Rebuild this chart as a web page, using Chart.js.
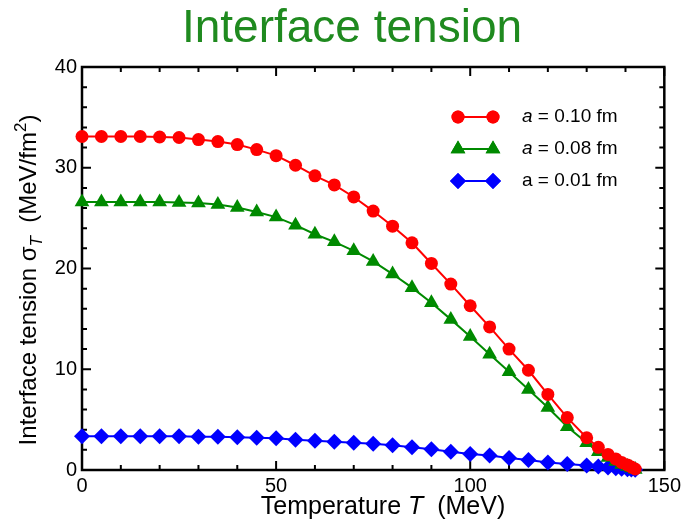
<!DOCTYPE html>
<html>
<head>
<meta charset="utf-8">
<script src="https://cdn.jsdelivr.net/npm/chart.js@4.4.1/dist/chart.umd.min.js"></script>
<style>
  body { margin: 0; background: #fff; }
  #wrap { width: 685px; height: 524px; }
</style>
</head>
<body>
<div id="wrap"><canvas id="tensionChart" width="685" height="524"></canvas></div>
<script>
// Temperature grid (MeV), shared by all three lattice spacings
const temperatures = [0, 5, 10, 15, 20, 25, 30, 35, 40, 45, 50, 55, 60, 65, 70, 75, 80, 85, 90, 95,
    100, 105, 110, 115, 120, 125, 130, 133, 135.5, 137.5, 139, 140.5, 141.5, 142.5];

// Interface tension sigma_T (MeV/fm^2)
const sigmaA010 = [33.1, 33.1, 33.1, 33.1, 33.05, 33.0, 32.8, 32.6, 32.3, 31.8, 31.2, 30.25, 29.2, 28.3,
    27.1, 25.7, 24.2, 22.55, 20.5, 18.45, 16.3, 14.2, 12.0, 9.9, 7.5, 5.2, 3.2, 2.25, 1.55, 1.1, 0.75, 0.5, 0.3, 0.1];
const sigmaA008 = [26.6, 26.6, 26.6, 26.6, 26.6, 26.55, 26.5, 26.35, 26.05, 25.6, 25.1, 24.3, 23.4, 22.65,
    21.75, 20.7, 19.45, 18.1, 16.6, 14.95, 13.25, 11.5, 9.75, 8.0, 6.2, 4.3, 2.7, 1.8, 1.25, 0.85, 0.55, 0.35, 0.2, 0.05];
const sigmaA001 = [3.35, 3.35, 3.35, 3.35, 3.35, 3.35, 3.3, 3.3, 3.25, 3.2, 3.15, 3.0, 2.9, 2.8, 2.7, 2.6,
    2.45, 2.25, 2.05, 1.8, 1.6, 1.45, 1.2, 1.0, 0.75, 0.6, 0.45, 0.35, 0.25, 0.18, 0.12, 0.08, 0.05, 0.02];

const seriesLabels = ['a = 0.10 fm', 'a = 0.08 fm', 'a = 0.01 fm'];
const xTicks = [0, 50, 100, 150];
const yTicks = [0, 10, 20, 30, 40];

const FONT = '"Liberation Sans", Arial, Helvetica, sans-serif';
const RED = '#ff0000', GREEN = '#008a00', BLUE = '#0000ff';

const toPoints = vals => vals.map((v, i) => ({ x: temperatures[i], y: v }));

const makeSet = (label, vals, color, style, radius) => ({
    label: label,
    data: toPoints(vals),
    borderColor: color,
    backgroundColor: color,
    borderWidth: 2,
    pointStyle: style,
    pointRadius: radius,
    pointBorderWidth: 0,
    pointBackgroundColor: color,
    tension: 0,
    clip: false
});

// draw a string made of pieces (italic / sub / superscript)
const drawRich = (ctx, pieces, x, y, size) => {
    const fontOf = p => (p.italic ? 'italic ' : '') + (p.size || size) + 'px ' + FONT;
    let total = 0;
    pieces.forEach(p => { ctx.font = fontOf(p); total += ctx.measureText(p.text).width; });
    let cx = x - total / 2;
    ctx.textAlign = 'left';
    ctx.textBaseline = 'alphabetic';
    pieces.forEach(p => {
        ctx.font = fontOf(p);
        ctx.fillText(p.text, cx, y + (p.dy || 0));
        cx += ctx.measureText(p.text).width;
    });
};

const framePlugin = {
    id: 'frame',
    beforeDatasetsDraw(chart) {
        const { ctx, chartArea: a, scales } = chart;
        ctx.save();
        ctx.strokeStyle = '#000';
        ctx.lineWidth = 2.5;
        ctx.strokeRect(a.left, a.top, a.right - a.left, a.bottom - a.top);
        ctx.lineWidth = 2;
        ctx.beginPath();
        // x ticks every 10, major every 50, on bottom and top
        for (let t = 0; t <= 150; t += 10) {
            const px = scales.x.getPixelForValue(t);
            const len = t % 50 === 0 ? 9 : 5;
            ctx.moveTo(px, a.bottom); ctx.lineTo(px, a.bottom - len);
            ctx.moveTo(px, a.top); ctx.lineTo(px, a.top + len);
        }
        // y ticks every 2, major every 10, on left and right
        for (let v = 0; v <= 40; v += 2) {
            const py = scales.y.getPixelForValue(v);
            const len = v % 10 === 0 ? 9 : 5;
            ctx.moveTo(a.left, py); ctx.lineTo(a.left + len, py);
            ctx.moveTo(a.right, py); ctx.lineTo(a.right - len, py);
        }
        ctx.stroke();
        ctx.restore();
    },
    afterDraw(chart) {
        const { ctx } = chart;
        ctx.save();
        // chart title
        ctx.fillStyle = '#1f8a1f';
        ctx.font = '46px ' + FONT;
        ctx.textAlign = 'center';
        ctx.textBaseline = 'alphabetic';
        ctx.fillText('Interface tension', 352, 42);

        ctx.fillStyle = '#000';
        // x axis title
        drawRich(ctx, [
            { text: 'Temperature ' },
            { text: 'T', italic: true },
            { text: '  (MeV)' }
        ], 383, 514, 25);

        // y axis title
        ctx.translate(36, 280);
        ctx.rotate(-Math.PI / 2);
        drawRich(ctx, [
            { text: 'Interface tension \u03c3' },
            { text: 'T', italic: true, size: 17, dy: 6 },
            { text: '  (MeV/fm' },
            { text: '2', size: 17, dy: -10 },
            { text: ')' }
        ], 0, 0, 24);
        ctx.restore();

        // legend
        ctx.save();
        const rows = [117, 149, 181];
        chart.data.datasets.forEach((ds, i) => {
            const y = rows[i];
            ctx.strokeStyle = ds.borderColor;
            ctx.lineWidth = 2;
            ctx.beginPath();
            ctx.moveTo(458, y); ctx.lineTo(493, y);
            ctx.stroke();
            [458, 493].forEach(x => {
                ctx.fillStyle = ds.backgroundColor;
                Chart.helpers.drawPoint(ctx, {
                    pointStyle: ds.pointStyle, radius: ds.pointRadius,
                    rotation: 0, borderWidth: 0
                }, x, y);
                ctx.fill();
            });
            ctx.fillStyle = '#000';
            ctx.textBaseline = 'middle';
            ctx.textAlign = 'left';
            const label = seriesLabels[i];
            if (i < 2) {
                ctx.font = 'italic 19px ' + FONT;
                ctx.fillText('a', 522, y);
                const w = ctx.measureText('a').width;
                ctx.font = '19px ' + FONT;
                ctx.fillText(label.slice(1), 522 + w, y);
            } else {
                ctx.font = '19px ' + FONT;
                ctx.fillText(label, 522, y);
            }
        });
        ctx.restore();
    }
};

const ctx = document.getElementById('tensionChart').getContext('2d');
new Chart(ctx, {
    type: 'line',
    data: {
        datasets: [
            makeSet(seriesLabels[0], sigmaA010, RED, 'circle', 6.5),
            makeSet(seriesLabels[1], sigmaA008, GREEN, 'triangle', 8.5),
            makeSet(seriesLabels[2], sigmaA001, BLUE, 'rectRot', 8)
        ]
    },
    options: {
        responsive: false,
        animation: false,
        layout: { padding: { top: 67, right: 19, left: 0, bottom: 0 } },
        plugins: {
            legend: { display: false },
            title: { display: false },
            tooltip: { enabled: false }
        },
        scales: {
            x: {
                type: 'linear',
                min: 0,
                max: 150,
                afterFit: s => { s.height = 54; },
                afterBuildTicks: s => { s.ticks = xTicks.map(v => ({ value: v })); },
                grid: { display: false, drawTicks: false },
                border: { display: false },
                ticks: { color: '#000', font: { family: FONT, size: 20 }, padding: 4, maxRotation: 0 }
            },
            y: {
                type: 'linear',
                min: 0,
                max: 40,
                afterFit: s => { s.width = 82; },
                afterBuildTicks: s => { s.ticks = yTicks.map(v => ({ value: v })); },
                grid: { display: false, drawTicks: false },
                border: { display: false },
                ticks: { color: '#000', font: { family: FONT, size: 20 }, padding: 5 }
            }
        }
    },
    plugins: [framePlugin]
});
</script>
</body>
</html>
